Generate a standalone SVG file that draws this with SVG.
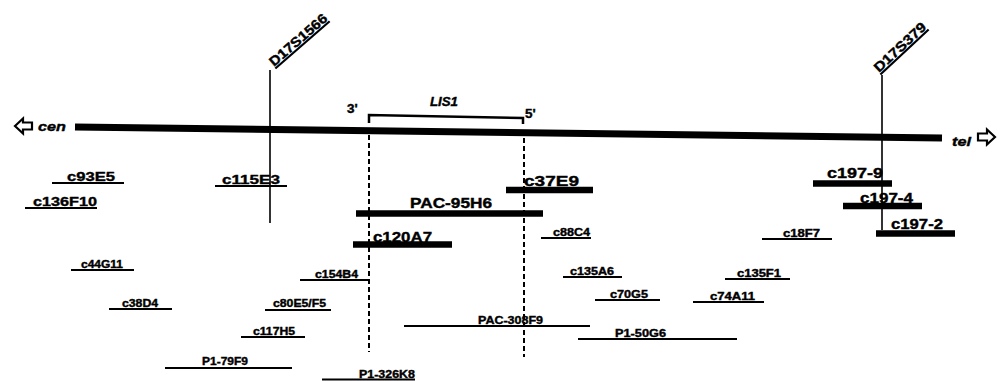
<svg xmlns="http://www.w3.org/2000/svg" width="1005" height="381" viewBox="0 0 1005 381">
<style>
.bar{stroke:#000;stroke-width:6.5;fill:none}
.ul{stroke:#000;stroke-width:2.2;fill:none}
.mk{stroke:#000;stroke-width:1.6;fill:none}
.dash{stroke:#000;stroke-width:2;stroke-dasharray:5 3;fill:none}
.arr{fill:#fff;stroke:#000;stroke-width:2.2;stroke-linejoin:miter}
text{font-family:"Liberation Sans",Arial,sans-serif;font-weight:bold;fill:#000;stroke:#000;stroke-width:0.4}
.lg{font-size:15px}
.md{font-size:13.5px}
.sm{font-size:11px}
.it{font-style:italic}
</style>
<rect width="1005" height="381" fill="#fff"/>

<g id="chromosome">
  <line x1="75" y1="127" x2="942" y2="138" stroke="#000" stroke-width="7"/>
  <path class="arr" d="M15,126 L23,118.5 L23,122.5 L32,122.5 L32,129.5 L23,129.5 L23,133.5 Z"/>
  <text class="md it" x="38" y="131" textLength="28" lengthAdjust="spacingAndGlyphs">cen</text>
  <text class="md it" x="952" y="146" textLength="19" lengthAdjust="spacingAndGlyphs">tel</text>
  <path class="arr" d="M995,137 L987,129.5 L987,133.5 L978,133.5 L978,140.5 L987,140.5 L987,144.5 Z"/>
</g>

<g id="D17S1566">
  <line class="mk" x1="270" y1="70" x2="270" y2="223"/>
  <g transform="translate(274,67) rotate(-41)">
    <text class="md" x="0" y="0" font-size="14" textLength="72" lengthAdjust="spacingAndGlyphs">D17S1566</text>
    <line class="ul" x1="0" y1="2" x2="72" y2="2"/>
  </g>
</g>

<g id="D17S379">
  <line class="mk" x1="882" y1="75" x2="882" y2="230"/>
  <g transform="translate(879,73) rotate(-43)">
    <text class="md" x="0" y="0" font-size="14" textLength="66" lengthAdjust="spacingAndGlyphs">D17S379</text>
    <line class="ul" x1="0" y1="2" x2="66" y2="2"/>
  </g>
</g>

<g id="LIS1">
  <path d="M369,123 L369,115 L523,118 L523,124" stroke="#000" stroke-width="2.5" fill="none"/>
  <text class="md it" x="430" y="106" textLength="28" lengthAdjust="spacingAndGlyphs">LIS1</text>
  <text class="md" x="347" y="113">3'</text>
  <text class="md" x="525" y="118">5'</text>
</g>

<g id="connectors">
  <line class="dash" x1="369" y1="135" x2="369" y2="352"/>
  <line class="dash" x1="524" y1="138" x2="524" y2="357"/>
</g>

<g id="c93E5"><line class="ul" x1="52" y1="183" x2="124" y2="183"/><text class="md" x="67" y="181" textLength="48" lengthAdjust="spacingAndGlyphs">c93E5</text></g>
<g id="c136F10"><line class="ul" x1="25" y1="208" x2="97" y2="208"/><text class="md" x="33" y="206" textLength="64" lengthAdjust="spacingAndGlyphs">c136F10</text></g>
<g id="c115E3"><line class="ul" x1="215" y1="186" x2="287" y2="186"/><text class="md" x="222" y="184" textLength="58" lengthAdjust="spacingAndGlyphs">c115E3</text></g>

<g id="c37E9"><line class="bar" x1="506" y1="190" x2="593" y2="190"/><text class="lg" x="524" y="186" textLength="55" lengthAdjust="spacingAndGlyphs">c37E9</text></g>
<g id="PAC-95H6"><line class="bar" x1="356" y1="213.5" x2="543" y2="213.5"/><text class="lg" x="410" y="208" textLength="82" lengthAdjust="spacingAndGlyphs">PAC-95H6</text></g>
<g id="c120A7"><line class="bar" x1="353" y1="244.5" x2="452" y2="244.5"/><text class="lg" x="373" y="242" textLength="59" lengthAdjust="spacingAndGlyphs">c120A7</text></g>

<g id="c197-9"><line class="bar" x1="813" y1="183.5" x2="892" y2="183.5"/><text class="lg" x="827" y="178" textLength="56" lengthAdjust="spacingAndGlyphs">c197-9</text></g>
<g id="c197-4"><line class="bar" x1="843" y1="206" x2="922" y2="206"/><text class="lg" x="860" y="203" textLength="53" lengthAdjust="spacingAndGlyphs">c197-4</text></g>
<g id="c197-2"><line class="bar" x1="876" y1="233.5" x2="955" y2="233.5"/><text class="lg" x="891" y="229" textLength="52" lengthAdjust="spacingAndGlyphs">c197-2</text></g>

<g id="c44G11"><line class="ul" x1="71" y1="270" x2="134" y2="270"/><text class="sm" x="81" y="268" textLength="42" lengthAdjust="spacingAndGlyphs">c44G11</text></g>
<g id="c38D4"><line class="ul" x1="109" y1="309" x2="172" y2="309"/><text class="sm" x="122" y="307" textLength="36" lengthAdjust="spacingAndGlyphs">c38D4</text></g>
<g id="c80E5F5"><line class="ul" x1="265" y1="310" x2="331" y2="310"/><text class="sm" x="273" y="307" textLength="53" lengthAdjust="spacingAndGlyphs">c80E5/F5</text></g>
<g id="c117H5"><line class="ul" x1="241" y1="337" x2="305" y2="337"/><text class="sm" x="253" y="335" textLength="42" lengthAdjust="spacingAndGlyphs">c117H5</text></g>
<g id="P1-79F9"><line class="ul" x1="165" y1="368" x2="292" y2="368"/><text class="sm" x="202" y="365" textLength="46" lengthAdjust="spacingAndGlyphs">P1-79F9</text></g>
<g id="c154B4"><line class="ul" x1="300" y1="280" x2="369" y2="280"/><text class="sm" x="315" y="278" textLength="43" lengthAdjust="spacingAndGlyphs">c154B4</text></g>
<g id="P1-326K8"><line class="ul" x1="322" y1="379.5" x2="415" y2="379.5"/><text class="sm" x="359" y="378" textLength="56" lengthAdjust="spacingAndGlyphs">P1-326K8</text></g>
<g id="PAC-308F9"><line class="ul" x1="404" y1="326" x2="590" y2="326"/><text class="sm" x="478" y="324" textLength="65" lengthAdjust="spacingAndGlyphs">PAC-308F9</text></g>
<g id="P1-50G6"><line class="ul" x1="578" y1="339" x2="737" y2="339"/><text class="sm" x="615" y="337" textLength="51" lengthAdjust="spacingAndGlyphs">P1-50G6</text></g>
<g id="c88C4"><line class="ul" x1="541" y1="238" x2="591" y2="238"/><text class="sm" x="553" y="236" textLength="37" lengthAdjust="spacingAndGlyphs">c88C4</text></g>
<g id="c135A6"><line class="ul" x1="563" y1="277" x2="622" y2="277"/><text class="sm" x="570" y="275" textLength="44" lengthAdjust="spacingAndGlyphs">c135A6</text></g>
<g id="c70G5"><line class="ul" x1="595" y1="300" x2="660" y2="300"/><text class="sm" x="610" y="298" textLength="38" lengthAdjust="spacingAndGlyphs">c70G5</text></g>
<g id="c18F7"><line class="ul" x1="762" y1="239" x2="832" y2="239"/><text class="sm" x="783" y="237" textLength="37" lengthAdjust="spacingAndGlyphs">c18F7</text></g>
<g id="c135F1"><line class="ul" x1="725" y1="279" x2="790" y2="279"/><text class="sm" x="737" y="277" textLength="44" lengthAdjust="spacingAndGlyphs">c135F1</text></g>
<g id="c74A11"><line class="ul" x1="693" y1="302" x2="764" y2="302"/><text class="sm" x="710" y="300" textLength="45" lengthAdjust="spacingAndGlyphs">c74A11</text></g>
</svg>
